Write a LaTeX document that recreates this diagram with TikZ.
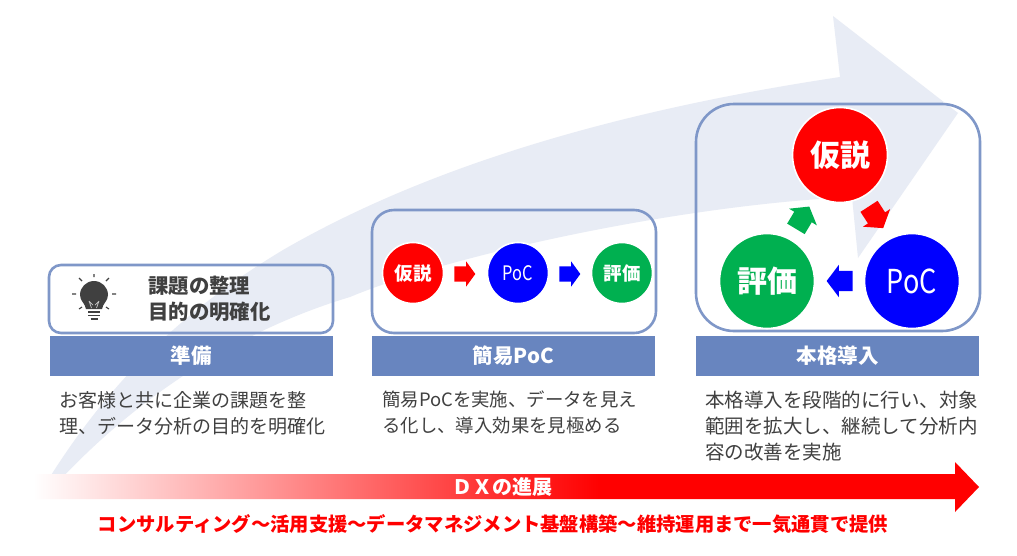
\documentclass[tikz,border=0pt]{standalone}
\usepackage{fontspec}
\setmainfont{Noto Sans CJK JP}
\newfontfamily\narrowfont[FakeStretch=0.82]{Noto Sans CJK JP}
\usetikzlibrary{shapes.arrows}
\definecolor{bandc}{HTML}{E8ECF5}
\definecolor{framec}{HTML}{7F97C8}
\definecolor{headc}{HTML}{6885BF}
\definecolor{textc}{HTML}{404040}
\definecolor{gc}{HTML}{00B050}
\pgfdeclarehorizontalshading{redfade}{100bp}{color(0bp)=(white); color(25bp)=(white); color(55bp)=(red); color(100bp)=(red)}
\newcommand{\fs}[1]{\fontsize{#1}{#1}\selectfont}
\tikzset{
 frame/.style={draw=framec,line width=2.6pt,fill=none},
 headbar/.style={fill=headc,text=white,font=\fs{20.5}\bfseries,minimum width=283pt,minimum height=40pt,inner sep=0pt},
 bodytext/.style={text=textc,anchor=north west,align=left,inner sep=0pt,font=\fontsize{19}{26}\selectfont},
 smallc/.style={circle,fill=#1,draw=white,line width=1.6pt,minimum size=61pt,inner sep=0pt,text=white,font=\fs{18.5}\bfseries},
 bigc/.style={circle,fill=#1,draw=white,line width=1.6pt,minimum size=95pt,inner sep=0pt,text=white,font=\fs{30}\bfseries},
 blockarrow/.style={single arrow,fill=#1,draw=none,inner sep=0pt,text height=7.5pt,text depth=7.5pt,single arrow head extend=5pt,single arrow head indent=0pt,minimum height=21pt,single arrow tip angle=108},
 bigblock/.style={single arrow,fill=#1,draw=none,inner sep=0pt,text height=10pt,text depth=10pt,single arrow head extend=6pt,single arrow head indent=0pt,minimum height=26pt,single arrow tip angle=106},
}
\begin{document}
\begin{tikzpicture}[x=1pt,y=-1pt]
\useasboundingbox (0,0) rectangle (1017,555);
\fill[white] (0,0) rectangle (1017,555);
% big rising arrow
\fill[bandc] (48,480) .. controls (120,365) and (200,300) .. (283,250)
  .. controls (430,165) and (620,110) .. (840,77)
  -- (833,16) -- (958,113) -- (858,258) -- (852,197)
  .. controls (680,205) and (450,255) .. (350,297)
  .. controls (240,330) and (140,395) .. (60,480) -- cycle;
% frames
\draw[frame,rounded corners=12pt] (49,265) rectangle (333,333);
\draw[frame,rounded corners=22pt] (372,210) rectangle (656,333);
\draw[frame,rounded corners=38pt] (696,104) rectangle (980,331);
% bulb
\begin{scope}[shift={(94,295)}]
 \fill[textc] (-8,14) .. controls (-9,8) and (-14,6) .. (-14,0) arc[start angle=180,end angle=360,radius=14] .. controls (14,6) and (9,8) .. (8,14) -- cycle;
 \draw[textc,line width=1.8pt] (-6,17) -- (6,17) (-6,20.5) -- (6,20.5);
 \draw[textc,line width=1.8pt] (-3.5,24) -- (3.5,24);
 \draw[white!70!textc,line width=.7pt] (-2.5,13) -- (-5,6) (2.5,13) -- (5,6) (-5,6) -- (-1,10) (5,6) -- (1,10);
 \draw[textc,line width=1.1pt] (0,-21) -- (0,-18) (-15,-17) -- (-12,-14) (15,-17) -- (12,-14) (-22,-1) -- (-18,-1) (22,-1) -- (18,-1) (-15,14) -- (-12,12) (15,14) -- (12,12);
\end{scope}
\node (goal) [text=textc,anchor=north west,align=left,inner sep=0pt,font=\fontsize{20.4}{26}\selectfont\bfseries] at (148,276) {課題の整理\\目的の明確化};
% headers
\node (h1) [headbar] at (191,356) {準備};
\node (h2) [headbar] at (513.5,356) {簡易PoC};
\node (h3) [headbar] at (837.5,356) {本格導入};
% body
\node (t1) [bodytext] at (59,391) {お客様と共に企業の課題を整\\理、データ分析の目的を明確化};
\node (t2) [bodytext,font=\fontsize{18.4}{26}\selectfont] at (382,391) {簡易PoCを実施、データを見え\\る化し、導入効果を見極める};
\node (t3) [bodytext,font=\fontsize{19.5}{26}\selectfont] at (705,391) {本格導入を段階的に行い、対象\\範囲を拡大し、継続して分析内\\容の改善を実施};
% small loop
\node (a1) [smallc=red] at (413,273) {仮説};
\node (a2) [smallc=blue,font=\fs{20}\narrowfont] at (518,273) {PoC};
\node (a3) [smallc=gc] at (622,273) {評価};
\node (a12) [blockarrow=red] at (462,274) {};
\node (a23) [blockarrow=blue] at (567,274) {};
% large loop
\node (b1) [bigc=red] at (840,155) {仮説};
\node (b2) [bigc=blue,font=\fs{33}\narrowfont] at (912,281) {PoC};
\node (b3) [bigc=gc] at (767,281) {評価};
\node (b12) [bigblock=red,rotate=-57] at (874,214) {};
\node (b23) [bigblock=blue,rotate=180] at (843.5,281) {};
\node (b31) [bigblock=gc,rotate=59] at (800.6,221) {};
% progress arrow
\path[shade,shading=redfade] (33,474) -- (955,474) -- (955,462) -- (979,487) -- (955,512) -- (955,499) -- (33,499) -- cycle;
\node (dx) [text=white,font=\fs{20}\bfseries,inner sep=0pt] at (502,487) {ＤＸの進展};
\node (foot) [text=red,font=\fs{19.3}\bfseries,inner sep=0pt] at (493,524) {コンサルティング〜活用支援〜データマネジメント基盤構築〜維持運用まで一気通貫で提供};
\end{tikzpicture}
\end{document}
